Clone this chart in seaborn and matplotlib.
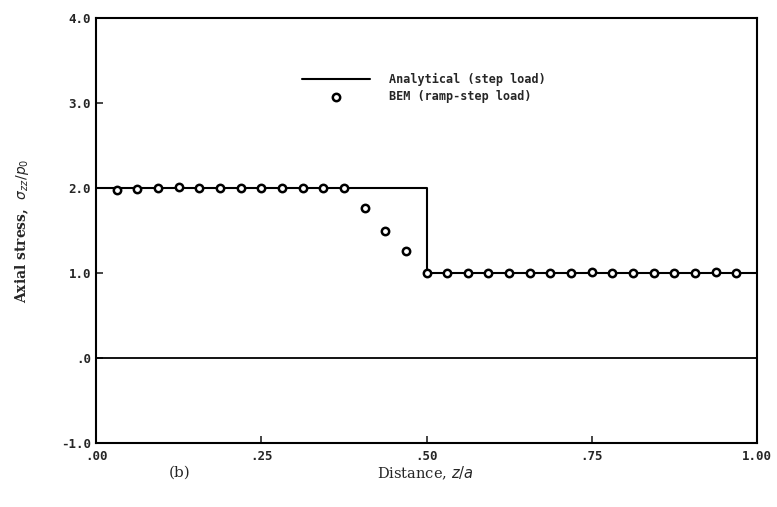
import pandas as pd
import matplotlib.pyplot as plt
import seaborn as sns

# Analytical solution (step load)
analytical_x = [0.0, 0.5, 0.5, 1.0]
analytical_y = [2.0, 2.0, 1.0, 1.0]

# BEM results (ramp-step load)
bem_x = [1/32, 2/32, 3/32, 4/32, 5/32, 6/32, 7/32, 8/32, 9/32, 10/32, 11/32, 12/32,
         13/32, 14/32, 15/32, 16/32, 17/32, 18/32, 19/32, 20/32, 21/32, 22/32, 23/32,
         24/32, 25/32, 26/32, 27/32, 28/32, 29/32, 30/32, 31/32]
bem_y = [1.98, 1.99, 2.0, 2.01, 2.0, 2.0, 2.0, 2.0, 2.0, 2.0, 2.0, 2.0,
         1.76, 1.5, 1.26, 1.0, 1.0, 1.0, 1.0, 1.0, 1.0, 1.0, 1.0,
         1.01, 1.0, 1.0, 1.0, 1.0, 1.0, 1.01, 1.0]

x_ticks = [0.0, 0.25, 0.5, 0.75, 1.0]
x_ticklabels = ['.00', '.25', '.50', '.75', '1.00']
y_ticks = [-1.0, 0.0, 1.0, 2.0, 3.0, 4.0]
y_ticklabels = ['-1.0', '.0', '1.0', '2.0', '3.0', '4.0']

sns.set_style("ticks")
plt.rcParams['font.family'] = ['DejaVu Sans']

df_a = pd.DataFrame({'x': analytical_x, 'y': analytical_y})
df_b = pd.DataFrame({'x': bem_x, 'y': bem_y})

fig = plt.figure(figsize=(7.77, 5.07), dpi=100)
ax = fig.add_axes([96/777, 64/507, 661/777, 425/507])

ax.axhline(0.0, color='black', lw=1.3)
sns.lineplot(data=df_a, x='x', y='y', ax=ax, color='black', lw=1.5,
             sort=False, estimator=None, label='Analytical (step load)')
sns.scatterplot(data=df_b, x='x', y='y', ax=ax, marker='o', s=28,
                facecolor='white', edgecolor='black', linewidth=1.8,
                label='BEM (ramp-step load)', zorder=3)

ax.set_xlim(0, 1)
ax.set_ylim(-1, 4)
ax.set_xticks(x_ticks)
ax.set_xticklabels(x_ticklabels)
ax.set_yticks(y_ticks)
ax.set_yticklabels(y_ticklabels)
ax.tick_params(direction='in', length=5, width=1.2, labelsize=9)
ax.tick_params(axis='x', pad=5)
for lab in ax.get_xticklabels() + ax.get_yticklabels():
    lab.set_family('DejaVu Sans Mono')
    lab.set_fontweight('bold')
for sp in ax.spines.values():
    sp.set_visible(True)
    sp.set_linewidth(1.5)
    sp.set_color('black')

ax.set_xlabel('')
ax.set_ylabel(r'Axial stress,  $\sigma_{zz}/p_0$', family='DejaVu Serif',
              fontweight='bold', fontsize=10, labelpad=22)
fig.text(425/777, 1 - 473/507, 'Distance, $z/a$', family='DejaVu Serif',
         fontsize=10.5, ha='center', va='center')
fig.text(180/777, 1 - 473/507, '(b)', family='DejaVu Serif',
         fontsize=11, ha='center', va='center')

leg = ax.legend(loc='upper left', bbox_to_anchor=(0.295, 0.895), frameon=False,
                handlelength=5.8, handletextpad=1.6, labelspacing=0.35,
                prop={'family': 'DejaVu Sans Mono', 'weight': 'bold', 'size': 8.5})

plt.savefig('out.png', dpi=100)
plt.close()
